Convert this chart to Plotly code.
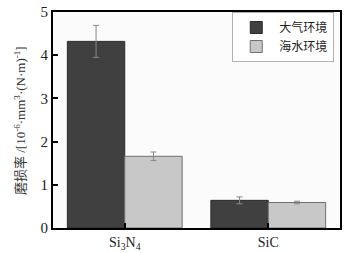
import plotly.graph_objects as go

categories = ["Si<sub>3</sub>N<sub>4</sub>", "SiC"]
series_names = ["大气环境", "海水环境"]
air_values = [4.32, 0.64]
air_errors = [0.37, 0.08]
sea_values = [1.66, 0.59]
sea_errors = [0.10, 0.03]
y_ticks = [0, 1, 2, 3, 4, 5]
y_title = "磨损率 /[10<sup>-6</sup>·mm<sup>3</sup>·(N·m)<sup>-1</sup>]"

serif = "Liberation Serif, Times New Roman, serif"
cjk = "Liberation Serif, Noto Sans CJK SC, serif"

fig = go.Figure()
fig.add_trace(go.Bar(
    x=categories, y=air_values, name=series_names[0],
    marker=dict(color="#404040", line=dict(color="#2a2a2a", width=1)),
    error_y=dict(type="data", array=air_errors, color="#888888", thickness=1, width=3),
))
fig.add_trace(go.Bar(
    x=categories, y=sea_values, name=series_names[1],
    marker=dict(color="#c8c8c8", line=dict(color="#707070", width=1)),
    error_y=dict(type="data", array=sea_errors, color="#888888", thickness=1, width=3),
))

fig.update_layout(
    width=360, height=253,
    margin=dict(l=53, r=20, t=12, b=25, autoexpand=False),
    barmode="group", bargap=0.2, bargroupgap=0,
    paper_bgcolor="white", plot_bgcolor="#fbfbfb",
    font=dict(family=serif, size=14, color="#222222"),
    showlegend=True,
    legend=dict(
        x=0.98, y=1.0, xanchor="right", yanchor="top",
        bgcolor="white", bordercolor="#b0b0b0", borderwidth=1,
        font=dict(family=cjk, size=12, color="#222222"),
        tracegroupgap=0, itemwidth=36,
    ),
)
fig.update_xaxes(
    showline=True, linecolor="black", linewidth=2, mirror=True,
    ticks="inside", ticklen=5, tickcolor="black", tickwidth=2,
    tickfont=dict(family=serif, size=14, color="#222222"),
    showgrid=False, automargin=False,
)
fig.update_yaxes(
    range=[0, 5], tickvals=y_ticks,
    showline=True, linecolor="black", linewidth=2, mirror=True,
    ticks="inside", ticklen=5, tickcolor="black", tickwidth=2,
    tickfont=dict(family=serif, size=15, color="#222222"),
    showgrid=False, zeroline=False, automargin=False,
    ticklabeloverflow="allow",
)
fig.add_annotation(
    text=y_title, xref="paper", yref="paper",
    x=-0.115, y=0.5, xanchor="center", yanchor="middle",
    textangle=-90, showarrow=False,
    font=dict(family=cjk, size=13, color="#333333"),
)

# remove the browser's default 8px body margin so the figure sits at the page corner
fig.write_html(
    "out.html",
    config={"displayModeBar": False},
    post_script="document.body.style.margin='0px';",
)
